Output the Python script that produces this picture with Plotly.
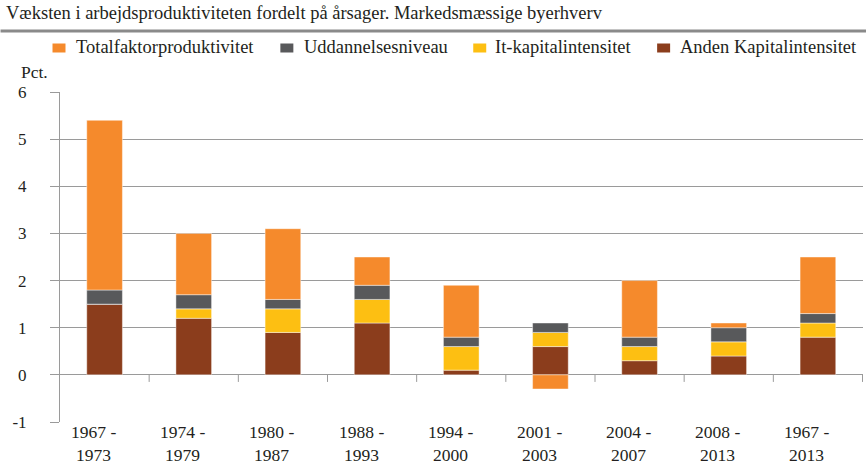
import plotly.graph_objects as go

categories = ["1967 - 1973", "1974 - 1979", "1980 - 1987", "1988 - 1993",
              "1994 - 2000", "2001 - 2003", "2004 - 2007", "2008 - 2013",
              "1967 - 2013"]
anden_kapital = [1.5, 1.2, 0.9, 1.1, 0.1, 0.6, 0.3, 0.4, 0.8]
it_kapital = [0.0, 0.2, 0.5, 0.5, 0.5, 0.3, 0.3, 0.3, 0.3]
uddannelse = [0.3, 0.3, 0.2, 0.3, 0.2, 0.2, 0.2, 0.3, 0.2]
tfp = [3.6, 1.3, 1.5, 0.6, 1.1, -0.3, 1.2, 0.1, 1.2]
y_ticks = [-1, 0, 1, 2, 3, 4, 5, 6]
y_tick_labels = ["-1", "0", "1", "2", "3", "4", "5", "6"]

series = [
    ("Anden Kapitalintensitet", anden_kapital, "#8B3D1C"),
    ("It-kapitalintensitet", it_kapital, "#FDBF12"),
    ("Uddannelsesniveau", uddannelse, "#58595B"),
    ("Totalfaktorproduktivitet", tfp, "#F58A2C"),
]

FONT = "Liberation Serif"
TXT = "#231f20"
GRID = "#9a9a9a"

L, R, T, B = 59.5, 863, 92, 422
W, H = 866, 468
PW, PH = R - L, B - T


def px(x):
    return (x - L) / PW


def py(y):
    return (B - y) / PH


fig = go.Figure()
for name, vals, col in series:
    fig.add_trace(go.Bar(x=categories, y=vals, name=name, showlegend=False,
                         marker=dict(color=col, line=dict(color="rgba(255,255,255,0.55)", width=0.8))))

fig.update_layout(
    width=W, height=H,
    margin=dict(l=L, r=W - R, t=T, b=H - B, autoexpand=False),
    barmode="relative", bargap=0.6,
    plot_bgcolor="white", paper_bgcolor="white",
    font=dict(family=FONT, size=17, color=TXT),
    showlegend=False,
    xaxis=dict(type="category", showgrid=False, showline=False, ticks="",
               showticklabels=False, automargin=False),
    yaxis=dict(range=[-1, 6], tickvals=y_ticks, ticktext=y_tick_labels,
               showgrid=True, gridcolor=GRID, gridwidth=1,
               zeroline=True, zerolinecolor=GRID, zerolinewidth=1,
               showline=True, linecolor=GRID, linewidth=1,
               ticks="outside", ticklen=9, tickcolor=GRID,
               ticklabelstandoff=20, tickfont=dict(size=17, family=FONT, color=TXT),
               automargin=False),
)

fig.add_annotation(text="Væksten i arbejdsproduktiviteten fordelt på årsager. Markedsmæssige byerhverv",
                   xref="paper", yref="paper", x=px(3), y=py(13), xanchor="left", yanchor="middle",
                   showarrow=False, font=dict(size=18.5, family=FONT, color=TXT))
fig.add_shape(type="line", xref="paper", yref="paper", x0=px(0), x1=px(W),
              y0=py(31), y1=py(31), line=dict(color="#8a8a8a", width=3))
fig.add_annotation(text="Pct.", xref="paper", yref="paper", x=px(18), y=py(72),
                   xanchor="left", yanchor="middle", showarrow=False,
                   font=dict(size=17.5, family=FONT, color=TXT))

legend_items = [("Totalfaktorproduktivitet", "#F58A2C", 52, 74),
                ("Uddannelsesniveau", "#58595B", 280, 302),
                ("It-kapitalintensitet", "#FDBF12", 473, 493),
                ("Anden Kapitalintensitet", "#8B3D1C", 657, 678)]
for label, col, sx, tx in legend_items:
    fig.add_shape(type="rect", xref="paper", yref="paper", x0=px(sx), x1=px(sx + 13),
                  y0=py(52.5), y1=py(43.5), fillcolor=col, line=dict(width=0))
    fig.add_annotation(text=label, xref="paper", yref="paper", x=px(tx), y=py(47),
                       xanchor="left", yanchor="middle", showarrow=False,
                       font=dict(size=18.5, family=FONT, color=TXT))

for i in range(len(categories)):
    fig.add_shape(type="line", xref="x", yref="y", x0=i + 0.5, x1=i + 0.5, y0=0, y1=-0.15,
                  line=dict(color=GRID, width=1))

for c in categories:
    first, second = c.split(" - ")
    fig.add_annotation(text=first + " -<br>" + second, xref="x", yref="paper", x=c, y=py(443),
                       xanchor="center", yanchor="middle", xshift=-11, showarrow=False,
                       font=dict(size=17.5, family=FONT, color=TXT))

fig.write_html("out.html", post_script="document.body.style.margin='0';",
               config={"displayModeBar": False})
